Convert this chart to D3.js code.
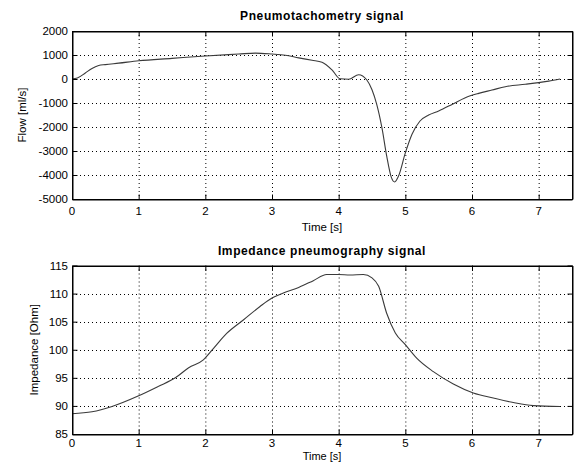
<!DOCTYPE html>
<html><head><meta charset="utf-8">
<script src="https://cdn.jsdelivr.net/npm/d3@7"></script>
<style>
body{margin:0;background:#fff}
text{font-family:"Liberation Sans",Arial,sans-serif;fill:#000}
</style>
</head><body>
<svg id="c" width="574" height="467"></svg>
<script>
// ---- data ----
const timeTicks = [0, 1, 2, 3, 4, 5, 6, 7];
const flowTicks = [-5000, -4000, -3000, -2000, -1000, 0, 1000, 2000];
const impTicks = [85, 90, 95, 100, 105, 110, 115];

const flowTime = [0, 0.08, 0.2, 0.3, 0.4, 0.5, 0.7, 1.0, 1.5, 2.0, 2.5, 2.75, 3.0, 3.2, 3.4, 3.6, 3.75, 3.9, 4.02, 4.15, 4.3, 4.42, 4.5, 4.57, 4.65, 4.72, 4.79, 4.84, 4.9, 5.0, 5.1, 5.22, 5.35, 5.5, 5.7, 5.9, 6.1, 6.3, 6.5, 6.8, 7.0, 7.15, 7.32];
const flowValues = [0, 40, 250, 440, 560, 600, 660, 760, 860, 960, 1040, 1080, 1040, 990, 880, 780, 700, 380, 10, -10, 180, -30, -450, -1050, -2050, -3200, -4100, -4290, -4030, -3080, -2300, -1750, -1500, -1330, -1060, -780, -600, -460, -320, -220, -150, -90, 0];

const impTime = [0, 0.3, 0.6, 1.0, 1.3, 1.55, 1.75, 1.97, 2.12, 2.32, 2.57, 2.82, 3.0, 3.17, 3.4, 3.62, 3.82, 4.0, 4.17, 4.37, 4.5, 4.6, 4.72, 4.85, 5.0, 5.17, 5.42, 5.72, 6.02, 6.32, 6.62, 6.92, 7.32];
const impValues = [88.6, 88.95, 89.9, 91.8, 93.5, 95.0, 96.8, 98.2, 100.2, 102.9, 105.3, 107.7, 109.2, 110.1, 111.1, 112.3, 113.4, 113.4, 113.3, 113.4, 112.8, 111.3, 106.5, 103.0, 100.9, 98.5, 96.1, 93.9, 92.3, 91.4, 90.6, 90.05, 89.9];

const svg = d3.select("#c");
svg.append("rect").attr("width", 574).attr("height", 467).attr("fill", "#fff");

const x = d3.scaleLinear().domain([0, 7.5]).range([72, 572]);

function panel(cfg) {
  const y = d3.scaleLinear().domain(cfg.domain).range([cfg.bottom, cfg.top]);
  const g = svg.append("g");
  // grid
  g.selectAll(".gx").data(timeTicks.filter(t => t > 0)).join("line")
    .attr("x1", d => x(d) + 0.5).attr("x2", d => x(d) + 0.5)
    .attr("y1", cfg.top).attr("y2", cfg.bottom)
    .attr("stroke", "#000").attr("stroke-width", 1).attr("stroke-dasharray", "1,3");
  g.selectAll(".gy").data(cfg.ticks.filter(t => t > cfg.domain[0] && t < cfg.domain[1])).join("line")
    .attr("x1", 72).attr("x2", 572)
    .attr("y1", d => Math.round(y(d)) + 0.5).attr("y2", d => Math.round(y(d)) + 0.5)
    .attr("stroke", "#000").attr("stroke-width", 1).attr("stroke-dasharray", "1,3");
  // line
  const line = d3.line().x((d, i) => x(cfg.times[i])).y(d => y(d)).curve(d3.curveMonotoneX);
  g.append("path").datum(cfg.values).attr("d", line)
    .attr("fill", "none").attr("stroke", "#3a3a3a").attr("stroke-width", 1.1);
  // axes with inner ticks
  const ax = g.append("g").attr("transform", `translate(0,${cfg.bottom + 0.5})`)
    .call(d3.axisBottom(x).tickValues(timeTicks).tickSizeInner(-5).tickSizeOuter(0).tickFormat(""));
  const axT = g.append("g").attr("transform", `translate(0,${cfg.top + 0.5})`)
    .call(d3.axisTop(x).tickValues(timeTicks).tickSizeInner(-5).tickSizeOuter(0).tickFormat(""));
  const ay = g.append("g").attr("transform", `translate(72.5,0)`)
    .call(d3.axisLeft(y).tickValues(cfg.ticks).tickSizeInner(-5).tickSizeOuter(0).tickFormat(""));
  const ayR = g.append("g").attr("transform", `translate(572.5,0)`)
    .call(d3.axisRight(y).tickValues(cfg.ticks).tickSizeInner(-5).tickSizeOuter(0).tickFormat(""));
  [ax, axT, ay, ayR].forEach(a => { a.selectAll("path,line").attr("stroke", "#000"); });
  // box
  g.append("rect").attr("x", 72.5).attr("y", cfg.top + 0.5).attr("width", 500).attr("height", cfg.bottom - cfg.top)
    .attr("fill", "none").attr("stroke", "#000");
  // tick labels
  g.selectAll(".xl").data(timeTicks).join("text")
    .attr("x", d => x(d)).attr("y", cfg.tickBase).attr("text-anchor", "middle")
    .attr("font-size", 11.5).text(d => d);
  g.selectAll(".yl").data(cfg.ticks).join("text")
    .attr("x", 68).attr("y", d => y(d) + 4).attr("text-anchor", "end")
    .attr("font-size", 11.5).text(d => d);
  // labels
  g.append("text").attr("x", 322).attr("y", cfg.xlabBase).attr("text-anchor", "middle")
    .attr("font-size", cfg.xlabSize).text("Time [s]");
  g.append("text").attr("transform", `translate(${cfg.ylabX},${(cfg.top + cfg.bottom) / 2}) rotate(-90)`)
    .attr("text-anchor", "middle").attr("font-size", 11.5).text(cfg.ylabel);
  g.append("text").attr("x", 322).attr("y", cfg.titleBase).attr("text-anchor", "middle")
    .attr("font-size", 12).attr("font-weight", "bold").attr("letter-spacing", "0.6px").text(cfg.title);
}

panel({domain: [-5000, 2000], top: 31, bottom: 199, ticks: flowTicks, times: flowTime, values: flowValues,
  title: "Pneumotachometry signal", ylabel: "Flow [ml/s]", titleBase: 20, tickBase: 215, xlabBase: 231, xlabSize: 11.5, ylabX: 26});
panel({domain: [85, 115], top: 265.5, bottom: 434, ticks: impTicks, times: impTime, values: impValues,
  title: "Impedance pneumography signal", ylabel: "Impedance [Ohm]", titleBase: 255, tickBase: 447, xlabBase: 460, xlabSize: 11, ylabX: 38});
</script>
</body></html>
